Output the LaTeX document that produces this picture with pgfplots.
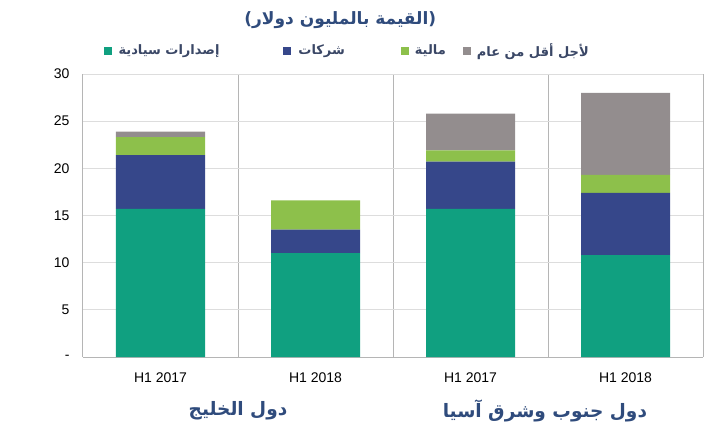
\documentclass[border=0pt]{standalone}
\usepackage{pgfplots}
\pgfplotsset{compat=1.18}
\usepackage{fontspec}
\setmainfont{Liberation Sans}
\newfontfamily\arabicfont[Script=Arabic]{DejaVu Sans}
\TeXXeTstate=1
\definecolor{cTeal}{HTML}{10A080}
\definecolor{cBlue}{HTML}{36478A}
\definecolor{cGreen}{HTML}{8DC04B}
\definecolor{cGray}{HTML}{938D8E}
\definecolor{cTitle}{HTML}{2F4B7C}
\definecolor{cLeg}{HTML}{3A4766}
\definecolor{cGrid}{HTML}{DDDDDD}
\definecolor{cAxis}{HTML}{B5B5B5}
\begin{document}
\begin{tikzpicture}
\path[use as bounding box] (-83pt,-77pt) rectangle (624pt,357pt);
\begin{axis}[
  at={(0pt,0pt)}, anchor=south west,
  scale only axis, width=620pt, height=283pt,
  ybar stacked, bar width=89pt,
  xmin=-0.5, xmax=3.5, ymin=0, ymax=30,
  xtick={0,1,2,3},
  xticklabels={H1 2017,H1 2018,H1 2017,H1 2018},
  minor xtick={0.5,1.5,2.5,3.5},
  ytick={0,5,10,15,20,25,30},
  yticklabels={-,5,10,15,20,25,30},
  major tick length=0pt, minor tick length=0pt,
  ymajorgrids, xminorgrids,
  major grid style={cGrid, line width=0.8pt},
  minor grid style={cAxis, line width=0.9pt},
  axis x line*=bottom, axis y line*=left,
  axis line style={cAxis, line width=1pt, -},
  /pgf/number format/assume math mode=true,
  tick label style={font=\fontsize{14}{16}\selectfont, black},
  yticklabel style={xshift=-10pt},
  xticklabel style={yshift=-12pt},
  legend style={at={(axis description cs:0.028,1.083)}, anchor=west, draw=none, fill=none,
    font=\fontsize{13}{15}\selectfont\bfseries\color{cLeg}, legend columns=4,
    /tikz/every even column/.append style={column sep=0pt}},
  legend image code/.code={\fill[#1] (0pt,-4pt) rectangle (8pt,4pt);},
  every axis plot/.append style={draw=none},
  clip=false,
]
\addplot[fill=cTeal] coordinates {(0,15.7) (1,11.0) (2,15.7) (3,10.8)};
\addlegendentry{\hspace*{5pt}{\arabicfont\beginR إصدارات سيادية\endR}\hspace*{62pt}}
\addplot[fill=cBlue] coordinates {(0,5.7) (1,2.5) (2,5.0) (3,6.6)};
\addlegendentry{\hspace*{5pt}{\arabicfont\beginR شركات\endR}\hspace*{54pt}}
\addplot[fill=cGreen] coordinates {(0,1.9) (1,3.1) (2,1.2) (3,1.9)};
\addlegendentry{\hspace*{4pt}{\arabicfont\beginR مالية\endR}\hspace*{15pt}}
\addplot[fill=cGray] coordinates {(0,0.6) (1,0) (2,3.9) (3,8.7)};
\addlegendentry{\hspace*{4pt}{\arabicfont\beginR لأجل أقل من عام\endR}}
\node[font=\arabicfont\bfseries\fontsize{17}{20}\selectfont, text=cTitle] at (axis description cs:0.415,1.19) {\beginR(القيمة بالمليون دولار)\endR};
\node[font=\arabicfont\bfseries\fontsize{18.5}{22}\selectfont, text=cTitle] at (axis description cs:0.25,-0.19) {\beginR دول الخليج\endR};
\node[font=\arabicfont\bfseries\fontsize{18.5}{22}\selectfont, text=cTitle] at (axis description cs:0.745,-0.19) {\beginR دول جنوب وشرق آسيا\endR};
\end{axis}
\end{tikzpicture}
\end{document}
